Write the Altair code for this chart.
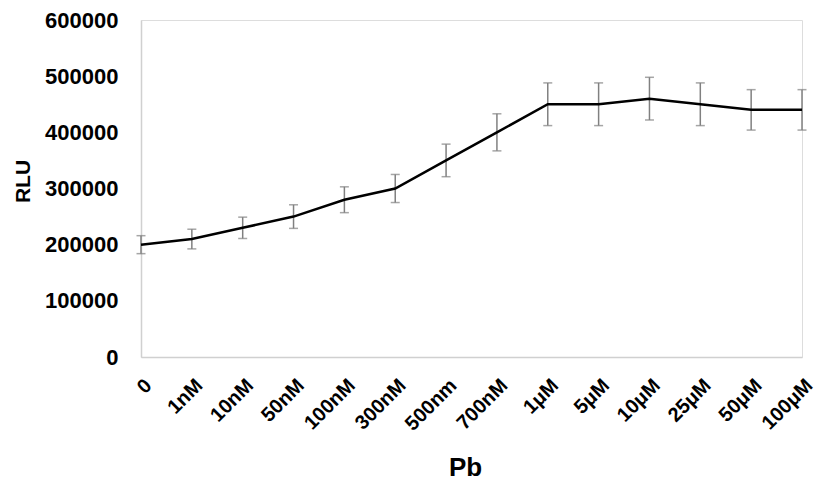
import altair as alt
import pandas as pd

categories = ["0", "1nM", "10nM", "50nM", "100nM", "300nM", "500nm", "700nM",
              "1μM", "5μM", "10μM", "25μM", "50μM", "100μM"]
rlu = [200000, 210000, 230000, 250000, 280000, 300000, 350000, 400000,
       450000, 450000, 460000, 450000, 440000, 440000]
err = [16000, 17500, 19000, 21000, 23000, 25000, 29000, 33000,
       38000, 38000, 38000, 38000, 36000, 36000]
y_ticks = [0, 100000, 200000, 300000, 400000, 500000, 600000]

df = pd.DataFrame({"Pb": categories, "RLU": rlu, "err": err})
df["lo"] = df["RLU"] - df["err"]
df["hi"] = df["RLU"] + df["err"]

font = "Liberation Sans"
W, H = 661, 337

x = alt.X("Pb:N", sort=categories, scale=alt.Scale(type="point", padding=0),
          axis=alt.Axis(title="Pb", labelAngle=-45, labelFont=font, labelFontSize=20,
                        labelFontWeight="bold", labelColor="#000000", labelPadding=18,
                        ticks=False, domainColor="#d0d0d0", domainWidth=1.5,
                        titleFont=font, titleFontSize=26, titleFontWeight="bold",
                        titleColor="#000000", titleX=324, titleY=118,
                        titleBaseline="alphabetic", titleAlign="center",
                        labelOverlap=False))

y_scale = alt.Scale(domain=[0, 600000], nice=False)

line = alt.Chart(df).mark_line(color="#000000", strokeWidth=2.5).encode(
    x=x,
    y=alt.Y("RLU:Q", scale=y_scale,
            axis=alt.Axis(title="RLU", values=y_ticks,
                          format="d", grid=False, ticks=False, domainColor="#d0d0d0",
                          domainWidth=1.5, labelFont=font, labelFontSize=22,
                          labelFontWeight="bold", labelColor="#000000", labelPadding=23,
                          titleFont=font, titleFontSize=21, titleFontWeight="bold",
                          titleColor="#000000", titleX=-112, titleY=161, titleAngle=-90,
                          titleBaseline="alphabetic", titleAlign="center")),
)

bars = alt.Chart(df).mark_errorbar(color="#808080", thickness=1.5,
                                   ticks=alt.TickConfig(size=9, thickness=1.5, color="#808080")).encode(
    x=x,
    y=alt.Y("lo:Q", scale=y_scale, title="RLU"),
    y2="hi:Q",
)

chart = alt.layer(bars, line).properties(
    width=W, height=H,
    autosize=alt.AutoSizeParams(type="none"),
    padding={"left": 133, "top": 12, "right": 16, "bottom": 126},
).configure_view(stroke=None).configure(background="#ffffff")

chart.save("out.html", embed_options={"renderer": "svg", "actions": False})
